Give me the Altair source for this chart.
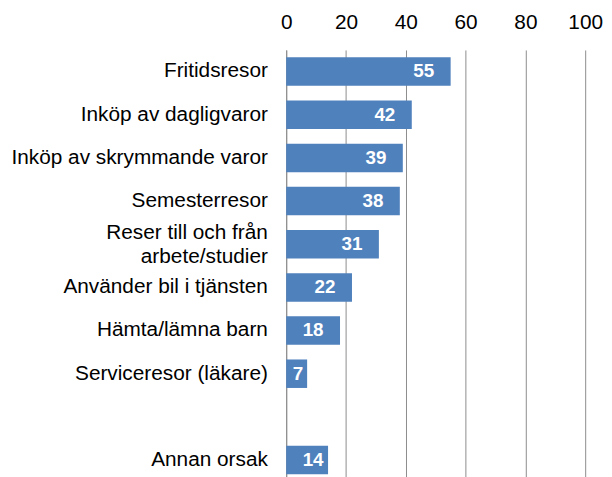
import altair as alt
import pandas as pd

categories = [
    "Fritidsresor",
    "Inköp av dagligvaror",
    "Inköp av skrymmande varor",
    "Semesterresor",
    "Reser till och från arbete/studier",
    "Använder bil i tjänsten",
    "Hämta/lämna barn",
    "Serviceresor (läkare)",
    "Annan orsak",
]
values = [55, 42, 39, 38, 31, 22, 18, 7, 14]
x_ticks = [0, 20, 40, 60, 80, 100]
# row order on the axis, with an empty slot before the last category
row_order = categories[:8] + [""] + categories[8:]

df = pd.DataFrame({"cat": categories, "val": values})

FONT = "Liberation Sans"
BLUE = "#4F81BD"
GRID = "#8C8C8C"
WRAPPED = "Reser till och från arbete/studier"

y_scale = alt.Scale(domain=row_order, range=[0, 436], paddingInner=0.34, paddingOuter=0.17)

y_enc = alt.Y(
    "cat:N",
    sort=row_order,
    scale=y_scale,
    axis=alt.Axis(
        title=None,
        ticks=False,
        domain=True,
        domainColor=GRID,
        domainWidth=1,
        labelFont=FONT,
        labelFontSize=21,
        labelColor="#000000",
        labelPadding=19,
        labelLimit=400,
        labelLineHeight=24,
        labelOffset={"condition": {"test": f"datum.label == '{WRAPPED}'", "value": -11}, "value": 0},
        labelExpr=f"datum.label == '{WRAPPED}' ? ['Reser till och från', 'arbete/studier'] : datum.label",
        grid=False,
    ),
)

x_scale = alt.Scale(domain=[0, 100], nice=False)

bars = alt.Chart(df).mark_bar(color=BLUE).encode(
    x=alt.X(
        "val:Q",
        scale=x_scale,
        axis=alt.Axis(
            orient="top",
            values=x_ticks,
            title=None,
            domain=False,
            ticks=False,
            grid=True,
            gridColor=GRID,
            gridWidth=1,
            labelFont=FONT,
            labelFontSize=21,
            labelColor="#000000",
            labelPadding=18,
            labelFlush=False,
        ),
    ),
    y=y_enc,
)

labels = alt.Chart(df).transform_calculate(
    lx="max(datum.val - 5.5, min(datum.val - 1.3, 12.5))"
).mark_text(
    align="right",
    baseline="middle",
    font=FONT,
    fontSize=19,
    fontWeight="bold",
    color="white",
).encode(
    x=alt.X("lx:Q", scale=x_scale),
    y=alt.Y("cat:N", sort=row_order, scale=y_scale),
    text=alt.Text("val:Q"),
)

chart = (
    alt.layer(bars, labels)
    .properties(
        width=302,
        height=436,
        autosize=alt.AutoSizeParams(type="none"),
        padding={"left": 281, "top": 40, "right": 19, "bottom": 0},
        background="white",
    )
    .configure_view(stroke=None)
)

chart.save("out.html", embed_options={"renderer": "svg", "actions": False})
